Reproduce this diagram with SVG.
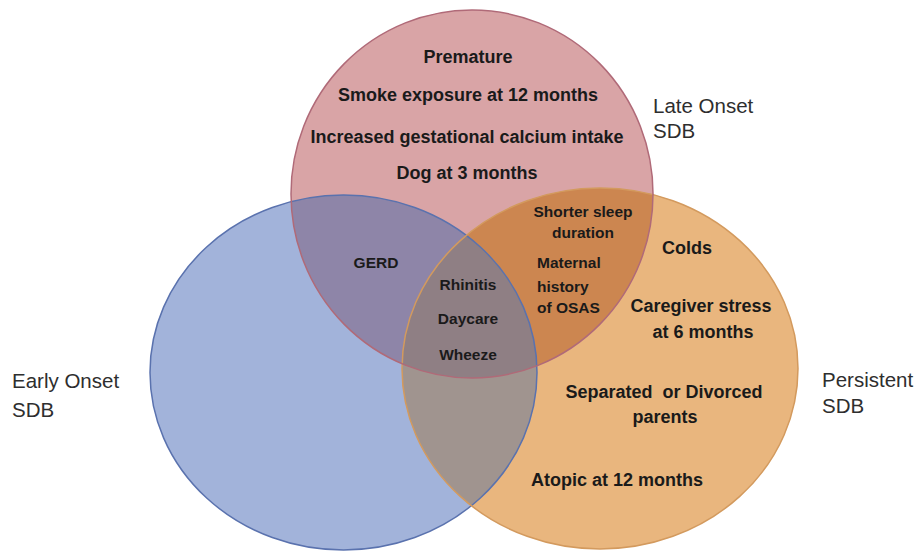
<svg xmlns="http://www.w3.org/2000/svg" width="920" height="552" viewBox="0 0 920 552">
<style>
.lbl{font-family:"Liberation Sans",Arial,sans-serif;font-size:20.5px;fill:#2e2e2e}
.big{font-family:"Liberation Sans",Arial,sans-serif;font-weight:bold;font-size:18px;fill:#1a1a1a;text-anchor:middle}
.sm{font-family:"Liberation Sans",Arial,sans-serif;font-weight:bold;font-size:15.5px;fill:#1a1a1a;text-anchor:middle}
.left{text-anchor:start}
.st{fill:none;stroke-width:1.5}
</style>
<defs>
<clipPath id="cRed"><ellipse cx="472" cy="194" rx="181" ry="184"/></clipPath>
<clipPath id="cBlue"><ellipse cx="343.5" cy="372.5" rx="193.5" ry="177.5"/></clipPath>
<clipPath id="cOrange"><ellipse cx="600" cy="368.5" rx="198" ry="180.5"/></clipPath>
</defs>
<rect width="920" height="552" fill="#ffffff"/>
<g id="early-onset">
<ellipse cx="343.5" cy="372.5" rx="193.5" ry="177.5" fill="#a2b3da"/>
</g>
<g id="persistent">
<ellipse cx="600" cy="368.5" rx="198" ry="180.5" fill="#e9b67e"/>
</g>
<g id="late-onset">
<ellipse cx="472" cy="194" rx="181" ry="184" fill="#d9a4a6"/>
</g>
<g id="overlaps">
<g clip-path="url(#cRed)"><ellipse cx="343.5" cy="372.5" rx="193.5" ry="177.5" fill="#8e85a8"/></g>
<g clip-path="url(#cRed)"><ellipse cx="600" cy="368.5" rx="198" ry="180.5" fill="#cc8650"/></g>
<g clip-path="url(#cBlue)"><ellipse cx="600" cy="368.5" rx="198" ry="180.5" fill="#a0948f"/></g>
<g clip-path="url(#cBlue)"><g clip-path="url(#cRed)"><ellipse cx="600" cy="368.5" rx="198" ry="180.5" fill="#8f7f84"/></g></g>
</g>
<g id="outlines">
<ellipse class="st" cx="343.5" cy="372.5" rx="193.5" ry="177.5" stroke="#5a72ae"/>
<ellipse class="st" cx="600" cy="368.5" rx="198" ry="180.5" stroke="#d39a5e"/>
<ellipse class="st" cx="472" cy="194" rx="181" ry="184" stroke="#b06a78"/>
</g>
<g id="texts-late">
<text class="big" x="468" y="63">Premature</text>
<text class="big" x="468" y="101">Smoke exposure at 12 months</text>
<text class="big" x="467" y="143">Increased gestational calcium intake</text>
<text class="big" x="467" y="179">Dog at 3 months</text>
</g>
<g id="texts-overlap">
<text class="sm" x="376" y="268">GERD</text>
<text class="sm" x="468" y="290">Rhinitis</text>
<text class="sm" x="468" y="324">Daycare</text>
<text class="sm" x="468" y="360">Wheeze</text>
<text class="sm" x="583" y="217">Shorter sleep</text>
<text class="sm" x="583" y="238">duration</text>
<text class="sm left" x="537" y="268">Maternal</text>
<text class="sm left" x="537" y="292">history</text>
<text class="sm left" x="537" y="313">of OSAS</text>
</g>
<g id="texts-persistent">
<text class="big" x="687" y="254">Colds</text>
<text class="big" x="701" y="312">Caregiver stress</text>
<text class="big" x="703" y="338">at 6 months</text>
<text class="big" x="664" y="398" xml:space="preserve">Separated  or Divorced</text>
<text class="big" x="665" y="423">parents</text>
<text class="big" x="617" y="486">Atopic at 12 months</text>
</g>
<g id="labels">
<text class="lbl" x="653" y="113">Late Onset</text>
<text class="lbl" x="653" y="138">SDB</text>
<text class="lbl" x="12" y="388">Early Onset</text>
<text class="lbl" x="12" y="417">SDB</text>
<text class="lbl" x="822" y="387">Persistent</text>
<text class="lbl" x="822" y="413">SDB</text>
</g>
</svg>
